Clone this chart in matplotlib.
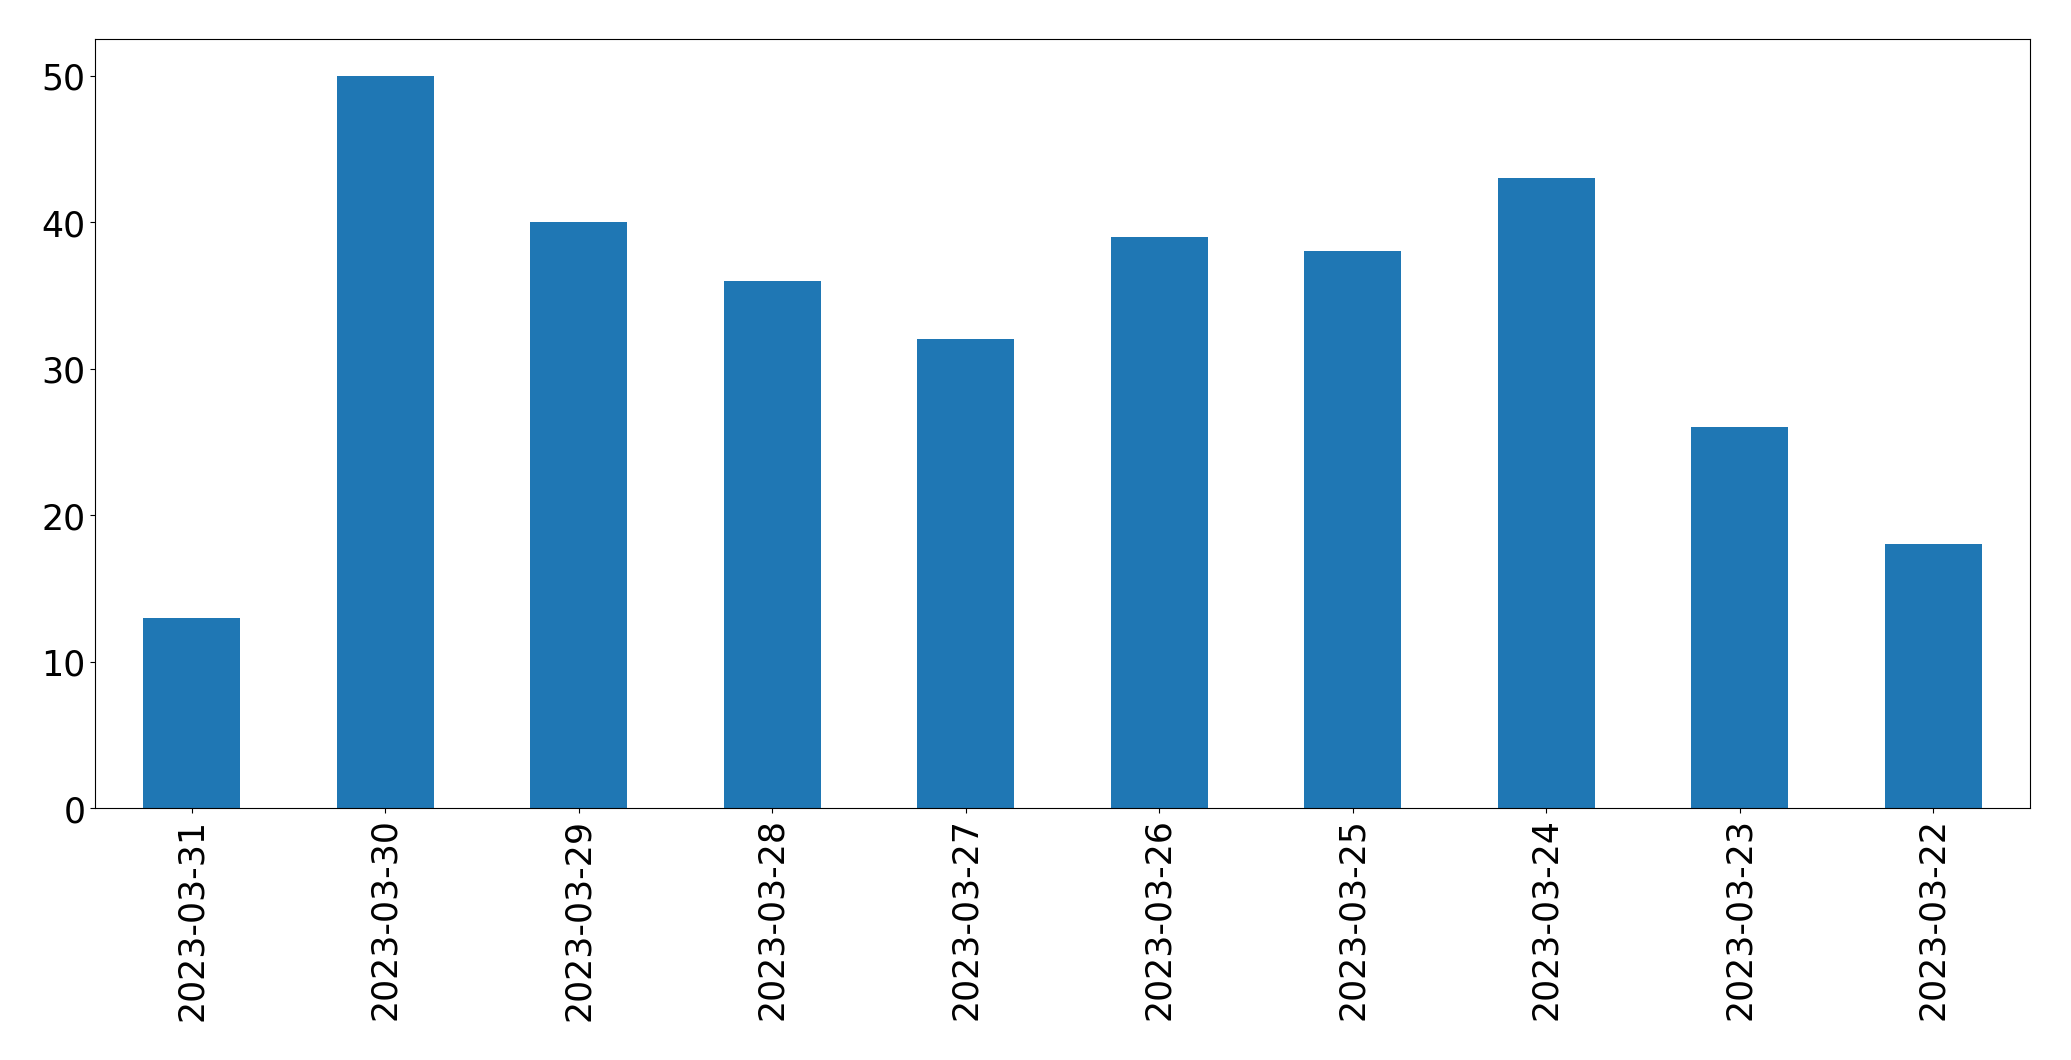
import matplotlib
matplotlib.use("Agg")
import matplotlib.pyplot as plt

dates = ["2023-03-31", "2023-03-30", "2023-03-29", "2023-03-28", "2023-03-27",
         "2023-03-26", "2023-03-25", "2023-03-24", "2023-03-23", "2023-03-22"]
counts = [13, 50, 40, 36, 32, 39, 38, 43, 26, 18]

fig = plt.figure(figsize=(20.71, 10.606), dpi=100)
ax = fig.add_axes([95/2071, 1 - 809/1061, (2030-95)/2071, (809-39.5)/1061])
x = list(range(len(dates)))
ax.bar(x, counts, width=0.5, color="#1f77b4")
ax.set_xlim(-0.5, len(dates) - 0.5)
ax.set_ylim(0, 52.5)
ax.set_xticks(x)
ax.set_xticklabels(dates, rotation=90)
ax.set_yticks([0, 10, 20, 30, 40, 50])
ax.tick_params(axis="both", labelsize=25)
fig.savefig("out.png", dpi=100)
